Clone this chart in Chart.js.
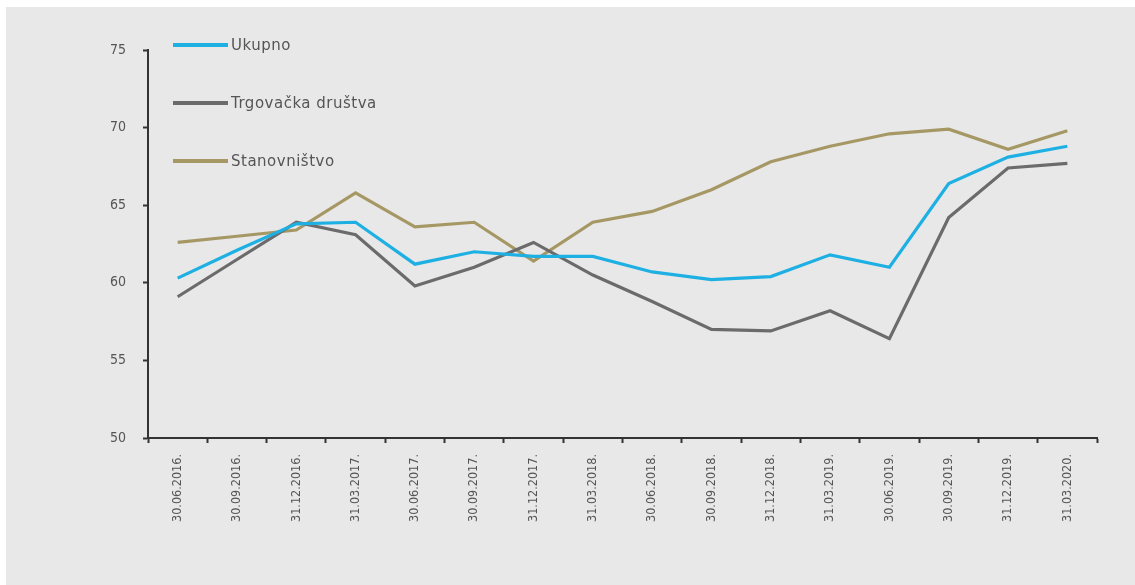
<!DOCTYPE html>
<html>
<head>
<meta charset="utf-8">
<script src="https://cdn.jsdelivr.net/npm/chart.js@4"></script>
<style>
  html, body { margin: 0; padding: 0; background: #ffffff; }
  #wrap { position: relative; width: 1135px; height: 585px; }
  #legend { position: absolute; left: 173px; top: 36px; font-family: "DejaVu Sans", sans-serif; font-size: 15px; letter-spacing: 0.5px; color: #555555; }
  .item { position: absolute; left: 0; white-space: nowrap; display: flex; align-items: center; }
  .sw { display: inline-block; width: 55px; height: 4px; margin-right: 3px; }
</style>
</head>
<body>
<div id="wrap">
  <canvas id="c" width="1135" height="585"></canvas>
  <div id="legend"></div>
</div>
<script>
const categories = ["30.06.2016.","30.09.2016.","31.12.2016.","31.03.2017.","30.06.2017.","30.09.2017.","31.12.2017.","31.03.2018.","30.06.2018.","30.09.2018.","31.12.2018.","31.03.2019.","30.06.2019.","30.09.2019.","31.12.2019.","31.03.2020."];
const ukupno =      [60.3, 62.1, 63.8, 63.9, 61.2, 62.0, 61.7, 61.7, 60.7, 60.2, 60.4, 61.8, 61.0, 66.4, 68.1, 68.8];
const trgovacka =   [59.1, 61.5, 63.9, 63.1, 59.8, 61.0, 62.6, 60.5, 58.8, 57.0, 56.9, 58.2, 56.4, 64.2, 67.4, 67.7];
const stanovnistvo = [62.6, 63.0, 63.4, 65.8, 63.6, 63.9, 61.4, 63.9, 64.6, 66.0, 67.8, 68.8, 69.6, 69.9, 68.6, 69.8];
const seriesNames = ["Ukupno", "Trgovačka društva", "Stanovništvo"];
const seriesColors = ["#1fb0e3", "#6b6b6b", "#a69865"];
const yTicks = [50, 55, 60, 65, 70, 75];

const bgPlugin = {
  id: 'bg',
  beforeDraw(chart) {
    const ctx = chart.ctx;
    ctx.save();
    ctx.fillStyle = '#ffffff';
    ctx.fillRect(0, 0, chart.width, chart.height);
    ctx.fillStyle = '#e8e8e8';
    ctx.fillRect(6, 7, chart.width - 6, chart.height - 7);
    ctx.restore();
  }
};

const data = {
  labels: categories,
  datasets: [ukupno, trgovacka, stanovnistvo].map((vals, i) => ({
    label: seriesNames[i],
    data: vals,
    borderColor: seriesColors[i],
    backgroundColor: seriesColors[i],
    borderWidth: 3.2,
    pointRadius: 0,
    tension: 0,
    fill: false
  }))
};

const chart = new Chart(document.getElementById('c'), {
  type: 'line',
  data,
  plugins: [bgPlugin],
  options: {
    responsive: false,
    animation: false,
    devicePixelRatio: 1,
    layout: { padding: { left: 0, top: 50, right: 38, bottom: 0 } },
    plugins: { legend: { display: false }, tooltip: { enabled: false } },
    scales: {
      x: {
        offset: true,
        grid: { offset: true, drawOnChartArea: false, drawTicks: true, tickLength: 5, tickColor: '#333333', tickWidth: 2 },
        border: { color: '#333333', width: 2 },
        ticks: {
          minRotation: 90, maxRotation: 90, autoSkip: false, padding: 11,
          color: '#555555',
          font: { family: '"Liberation Sans Narrow", "DejaVu Sans Condensed", sans-serif', size: 12.5 }
        },
        afterFit(scale) { scale.height = 147; }
      },
      y: {
        min: 50, max: 75,
        afterBuildTicks(scale) { scale.ticks = yTicks.map(v => ({ value: v })); },
        grid: { drawOnChartArea: false, drawTicks: true, tickLength: 5, tickColor: '#333333', tickWidth: 2 },
        border: { color: '#333333', width: 2 },
        ticks: {
          padding: 17, color: '#555555',
          font: { family: '"DejaVu Sans Condensed", "DejaVu Sans", sans-serif', size: 14 }
        },
        afterFit(scale) { scale.width = 148; }
      }
    }
  }
});

const legend = document.getElementById('legend');
const tops = [0, 58, 116];
chart.data.datasets.forEach((ds, i) => {
  const item = document.createElement('div');
  item.className = 'item';
  item.style.top = tops[i] + 'px';
  const sw = document.createElement('span');
  sw.className = 'sw';
  sw.style.background = ds.borderColor;
  const tx = document.createElement('span');
  tx.textContent = ds.label;
  item.appendChild(sw);
  item.appendChild(tx);
  legend.appendChild(item);
});
</script>
</body>
</html>
